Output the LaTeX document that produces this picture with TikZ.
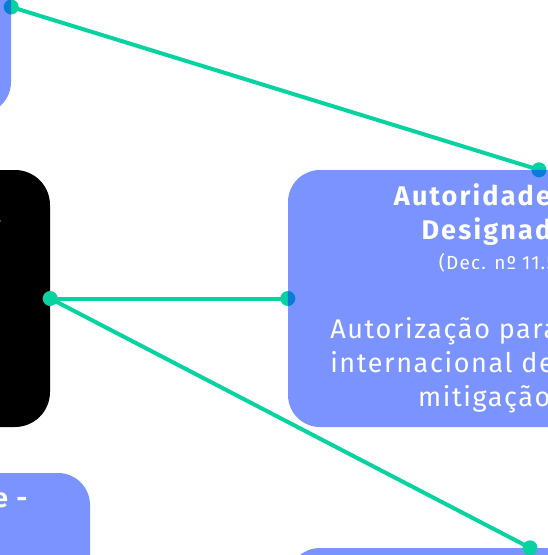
\documentclass[tikz,border=0pt]{standalone}
\usepackage{fontspec}
\setmainfont{Fira Sans}[LetterSpace=6, BoldFeatures={LetterSpace=8}]
\usepackage{tikz}
\usetikzlibrary{positioning,calc}
\usepackage{xcolor}
\definecolor{boxblue}{HTML}{7A93FF}
\definecolor{linkgreen}{HTML}{07D3A0}
\definecolor{dotblue}{HTML}{0A7BD6}

\begin{document}
\begin{tikzpicture}[x=1pt,y=-1pt,
			box/.style={fill=boxblue, rounded corners=32pt, inner sep=0pt, text=white},
			darkbox/.style={fill=black, rounded corners=35pt, inner sep=0pt, text=white},
			link/.style={linkgreen, line width=4pt},
			title/.style={font=\fontsize{27}{34}\selectfont\bfseries, text=white},
			body/.style={font=\fontsize{27}{34}\selectfont, text=white, align=center}]
		\useasboundingbox (0,0) rectangle (548,555);
		\clip (0,0) rectangle (548,555);
		\node[box, minimum width=260pt, minimum height=214pt] (designated) at (-119,7) {};
		\node[darkbox, minimum width=300pt, minimum height=257pt] (commission) at (-100,298.5) {};
		\node[box, minimum width=400pt, minimum height=300pt] (market) at (-110,623) {};
		\node[box, minimum width=484pt, minimum height=300pt] (registry) at (530,698) {};
		\node[box, body, minimum width=502pt, minimum height=257pt] (authority) at (539,298.5)
			{\textbf{Autoridade Nacional}\\ \textbf{Designada (AND)}\\[-4pt]
			{\fontsize{19}{24}\selectfont (Dec. nº 11.550/2023)}\\[35pt]
			Autorização para transferência\\ internacional de resultados de\\ mitigação (ITMOs)};
		\node[title, anchor=base east] (commissiontext) at (5,223) {a};
		\node[title, anchor=base east] (markettext) at (31,507) {e -};
		\draw[link] (designated.east) -- (authority.north);
		\draw[link] (commission.east) -- (authority.west);
		\draw[link] (commission.east) -- (registry.north);
		\foreach \p in {designated.east, authority.north, authority.west, commission.east, registry.north}
			\fill[linkgreen] (\p) circle (7.5);
		\foreach \p/\a in {designated.east/90, authority.north/0, authority.west/-90}
			\fill[dotblue] (\p) ++(\a:7.5) arc[start angle=\a, end angle=\a+180, radius=7.5] -- cycle;
	\end{tikzpicture}
\end{document}
